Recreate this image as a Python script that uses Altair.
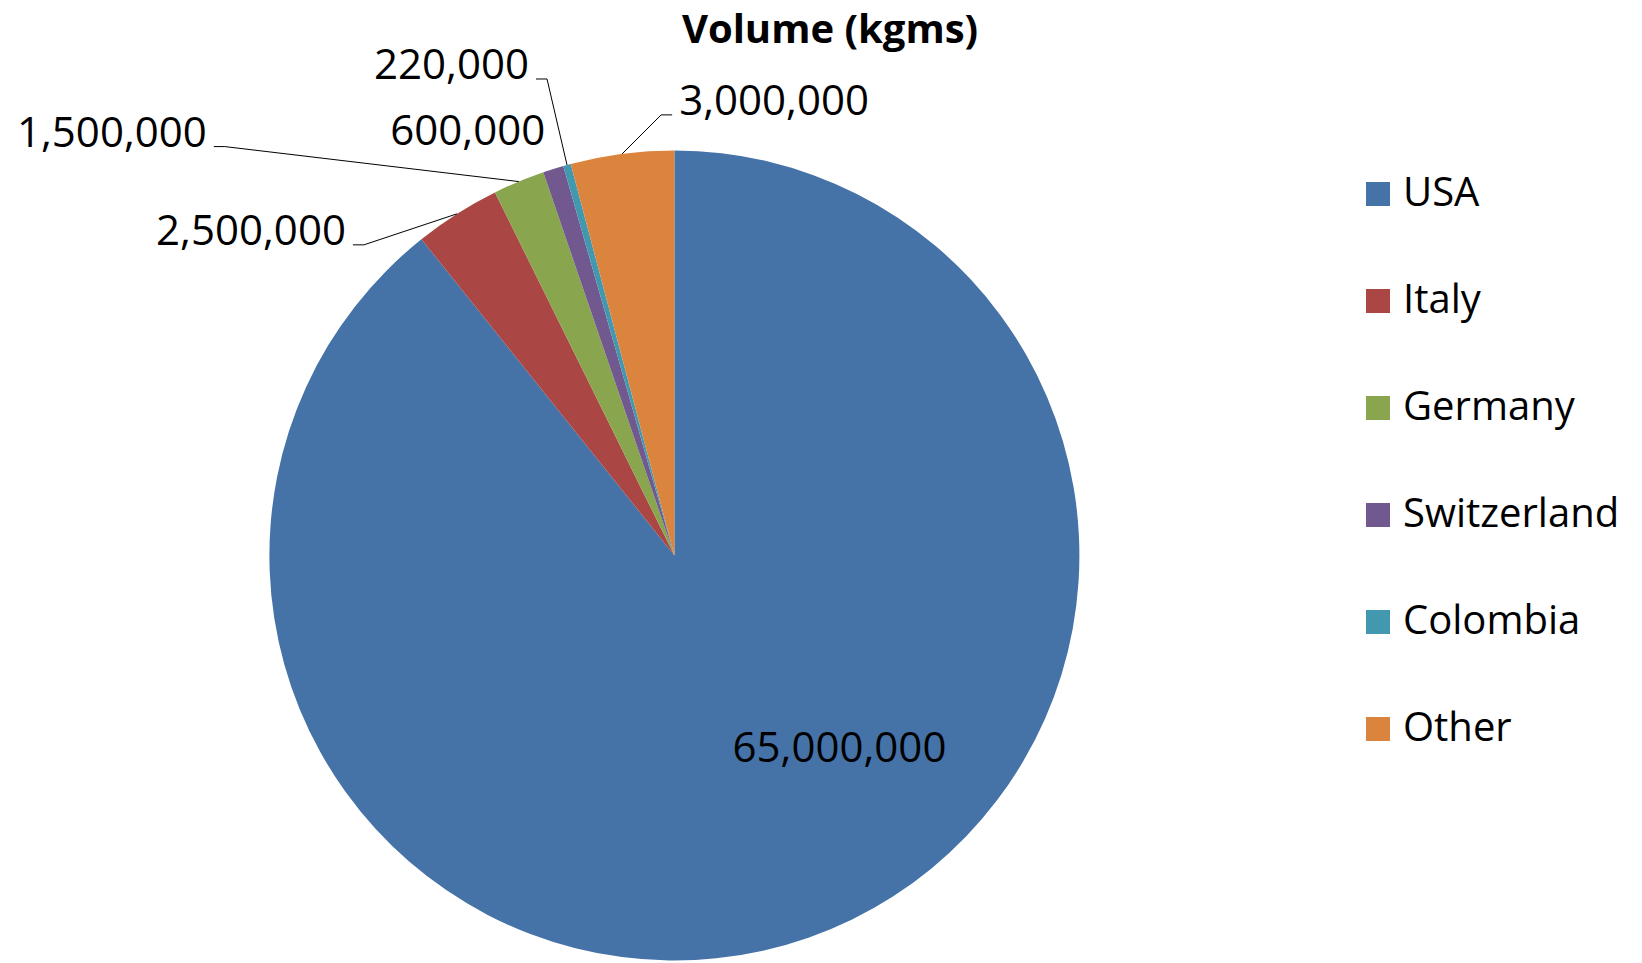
import math
import altair as alt
import pandas as pd

# ---- data ----
COUNTRIES = ["USA", "Italy", "Germany", "Switzerland", "Colombia", "Other"]
VOLUMES = [65000000, 2500000, 1500000, 600000, 220000, 3000000]
COLORS = ["#4572A7", "#AA4643", "#89A54E", "#71588F", "#4198AF", "#DB843D"]
TITLE = "Volume (kgms)"

# ---- layout (pixels, view coordinates) ----
PAD_TOP = 43
W, H = 1626, 912
CX, CY, R = 666.4, 504.5, 405
# label offsets from the slice's mid-arc point
LABEL_DX = [31, -111, -312, -8, -38, 57]
LABEL_DY = [-189, 18, -48, -37, -99, -52]
LABEL_ALIGN = ["center", "right", "right", "right", "right", "left"]
HAS_LEADER = [False, True, True, False, True, True]
GAP, ELBOW, DROP = 7, 11, 13
FONT = "Open Sans"
FS = 42
LEG_FS = 40

total = sum(VOLUMES)
rows, lines = [], []
start = 0.0
for i, (c, v) in enumerate(zip(COUNTRIES, VOLUMES)):
    a0 = start / total * 2 * math.pi
    a1 = (start + v) / total * 2 * math.pi
    start += v
    mid = (a0 + a1) / 2
    ax = CX + R * math.sin(mid)
    ay = CY - R * math.cos(mid)
    lx, ly = ax + LABEL_DX[i], ay + LABEL_DY[i]
    rows.append(dict(country=c, volume=v, idx=i, lx=lx, ly=ly, align=LABEL_ALIGN[i]))
    if HAS_LEADER[i]:
        s = 1 if LABEL_ALIGN[i] == "right" else -1
        pts = [(ax, ay), (lx + s * (GAP + ELBOW), ly + DROP), (lx + s * GAP, ly + DROP)]
        for k, (px, py) in enumerate(pts):
            lines.append(dict(country=c, k=k, px=px, py=py))

df = pd.DataFrame(rows)
ldf = pd.DataFrame(lines)

pie = alt.Chart(df).mark_arc(radius=R, strokeWidth=0).encode(
    theta=alt.Theta("volume:Q", stack=True),
    color=alt.Color(
        "country:N",
        scale=alt.Scale(domain=COUNTRIES, range=COLORS),
        sort=COUNTRIES,
        legend=alt.Legend(
            title=None, orient="none", legendX=1350, legendY=123,
            symbolType="square", symbolSize=576, symbolStrokeWidth=0,
            symbolOpacity=1, labelFont=FONT, labelFontSize=LEG_FS,
            labelColor="#000000", labelLimit=500, labelOffset=5,
            rowPadding=67, padding=0,
        ),
    ),
    order=alt.Order("idx:Q"),
    x=alt.value(CX),
    y=alt.value(CY),
)

leaders = alt.Chart(ldf).mark_line(color="#000000", strokeWidth=1).encode(
    x=alt.X("px:Q", scale=None, axis=None),
    y=alt.Y("py:Q", scale=None, axis=None),
    detail="country:N",
    order="k:Q",
)

def label_layer(al):
    return alt.Chart(df).transform_filter(alt.datum.align == al).mark_text(
        align=al, baseline="middle", font=FONT, fontSize=FS, color="#000000"
    ).encode(
        x=alt.X("lx:Q", scale=None, axis=None),
        y=alt.Y("ly:Q", scale=None, axis=None),
        text=alt.Text("volume:Q", format=","),
    )

chart = alt.layer(
    pie, leaders, label_layer("center"), label_layer("right"), label_layer("left")
).properties(
    width=W, height=H,
    title=alt.TitleParams(TITLE, font=FONT, fontSize=40, fontWeight="bold",
                          color="#000000", anchor="middle", dx=9, dy=10, offset=4),
    autosize=alt.AutoSizeParams(type="none"),
    padding={"top": PAD_TOP, "left": 0, "right": 0, "bottom": 0},
    background="white",
).configure_view(stroke=None)

chart.save("out.html", embed_options={"renderer": "svg", "actions": False})
